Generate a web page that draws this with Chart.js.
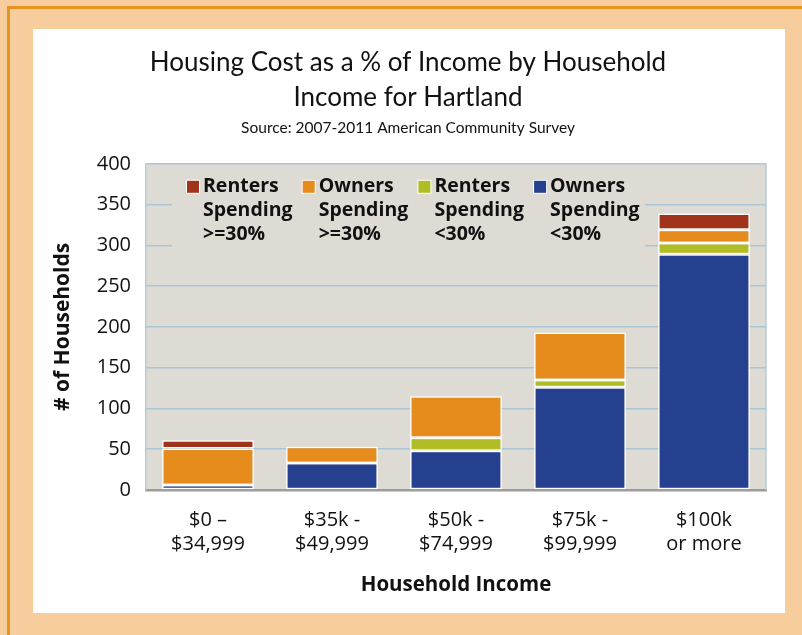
<!DOCTYPE html>
<html>
<head>
<meta charset="utf-8">
<script src="https://cdn.jsdelivr.net/npm/chart.js@4.4.1/dist/chart.umd.min.js"></script>
<style>
    html, body { margin: 0; padding: 0; }
    body { width: 802px; height: 635px; background: #f7cd9d; position: relative; overflow: hidden; }
    #edge { position: absolute; left: 7px; top: 6px; right: 0; bottom: 0; border-left: 3px solid #e8931f; border-top: 3px solid #e8931f; }
    #panel { position: absolute; left: 33px; top: 29px; width: 752px; height: 584px; background: #ffffff; }
</style>
</head>
<body>
<div id="edge"></div>
<div id="panel"><canvas id="housingChart" width="752" height="584"></canvas></div>
<script>
const categories = [["$0 \u2013", "$34,999"], ["$35k -", "$49,999"], ["$50k -", "$74,999"], ["$75k -", "$99,999"], ["$100k", "or more"]];
const ownersUnder30 = [6, 33, 48, 126, 289];
const rentersUnder30 = [0, 0, 16, 9, 14];
const ownersOver30 = [45, 20, 51, 58, 16];
const rentersOver30 = [10, 0, 0, 0, 20];
const yTicks = [0, 50, 100, 150, 200, 250, 300, 350, 400];

const TICK_FONT = "'Open Sans', 'Noto Sans', sans-serif";

// Plot background and right border
const plotFrame = {
    id: "plotFrame",
    beforeDraw(chart) {
        const { ctx, chartArea: a } = chart;
        ctx.save();
        ctx.fillStyle = "#dedad4";
        ctx.fillRect(a.left, a.top, a.right - a.left, a.bottom - a.top);
        ctx.restore();
    },
    beforeDatasetsDraw(chart) {
        const { ctx, chartArea: a } = chart;
        ctx.save();
        ctx.strokeStyle = "#b4cbd8";
        ctx.lineWidth = 1.5;
        ctx.beginPath();
        ctx.moveTo(a.right, a.top);
        ctx.lineTo(a.right, a.bottom);
        ctx.stroke();
        ctx.restore();
    }
};

// Legend drawn inside the plot, reversed order, multi-line labels
const insideLegend = {
    id: "insideLegend",
    afterDatasetsDraw(chart) {
        const { ctx, chartArea: a } = chart;
        const items = chart.data.datasets.slice().reverse();
        const x0 = a.left + 41, y0 = a.top + 23, step = 115.7, lineH = 24;
        ctx.save();
        ctx.fillStyle = "#dedad4";
        ctx.fillRect(a.left + 26, a.top + 6, 473, 82);
        ctx.font = "bold 19.5px " + TICK_FONT;
        ctx.textBaseline = "middle";
        items.forEach((ds, i) => {
            const x = x0 + i * step;
            ctx.fillStyle = "#ffffff";
            ctx.fillRect(x - 1, y0 - 7, 14, 14);
            ctx.fillStyle = ds.backgroundColor;
            ctx.fillRect(x, y0 - 6, 12, 12);
            ctx.fillStyle = "#111111";
            ds.legendLines.forEach((t, j) => ctx.fillText(t, x + 16, y0 + j * lineH));
        });
        ctx.restore();
    }
};

const ctx = document.getElementById("housingChart").getContext("2d");
new Chart(ctx, {
    type: "bar",
    data: {
        labels: categories,
        datasets: [
            { label: "Owners Spending <30%", legendLines: ["Owners", "Spending", "<30%"], data: ownersUnder30, backgroundColor: "#24408e" },
            { label: "Renters Spending <30%", legendLines: ["Renters", "Spending", "<30%"], data: rentersUnder30, backgroundColor: "#b1bd24" },
            { label: "Owners Spending >=30%", legendLines: ["Owners", "Spending", ">=30%"], data: ownersOver30, backgroundColor: "#e58c1c" },
            { label: "Renters Spending >=30%", legendLines: ["Renters", "Spending", ">=30%"], data: rentersOver30, backgroundColor: "#a0341a" }
        ].map(d => Object.assign(d, {
            borderColor: "#ffffff",
            borderWidth: 1.5,
            borderSkipped: false,
            barPercentage: 0.74,
            categoryPercentage: 1
        }))
    },
    options: {
        responsive: false,
        animation: false,
        layout: { padding: { left: 17, right: 19, top: 0, bottom: 12 } },
        plugins: {
            legend: { display: false },
            tooltip: { enabled: false },
            title: {
                display: true,
                text: ["Housing Cost as a % of Income by Household", "Income for Hartland"],
                color: "#111111",
                font: { family: "Lato, 'Noto Sans', sans-serif", size: 26, weight: "normal", lineHeight: 1.35 },
                padding: { top: 16, bottom: 1 }
            },
            subtitle: {
                display: true,
                text: "Source: 2007-2011 American Community Survey",
                color: "#111111",
                font: { family: "Lato, 'Noto Sans', sans-serif", size: 15.5, weight: "normal" },
                padding: { top: 2, bottom: 27 }
            }
        },
        scales: {
            x: {
                stacked: true,
                grid: { display: false, drawTicks: false },
                border: { display: true, color: "#9c9c9c", width: 2.5 },
                ticks: { color: "#111111", padding: 18, font: { family: TICK_FONT, size: 20, lineHeight: 1.2 } },
                title: { display: true, text: "Household Income", color: "#111111", padding: { top: 18 }, font: { family: TICK_FONT, size: 20.5, weight: "bold" } },
                afterFit: s => { s.height = 111; }
            },
            y: {
                stacked: true,
                min: 0,
                max: 400,
                afterBuildTicks: s => { s.ticks = yTicks.map(v => ({ value: v })); },
                grid: { color: "#a9c6d6", lineWidth: 1.5, drawTicks: false },
                border: { display: true, color: "#b4cbd8", width: 1.5 },
                ticks: { color: "#111111", padding: 15, font: { family: TICK_FONT, size: 20 } },
                title: { display: true, text: "# of Households", color: "#111111", padding: { top: 0, bottom: 0 }, font: { family: TICK_FONT, size: 21, weight: "bold" } },
                afterFit: s => { s.width = 96; }
            }
        }
    },
    plugins: [plotFrame, insideLegend]
});
</script>
</body>
</html>
